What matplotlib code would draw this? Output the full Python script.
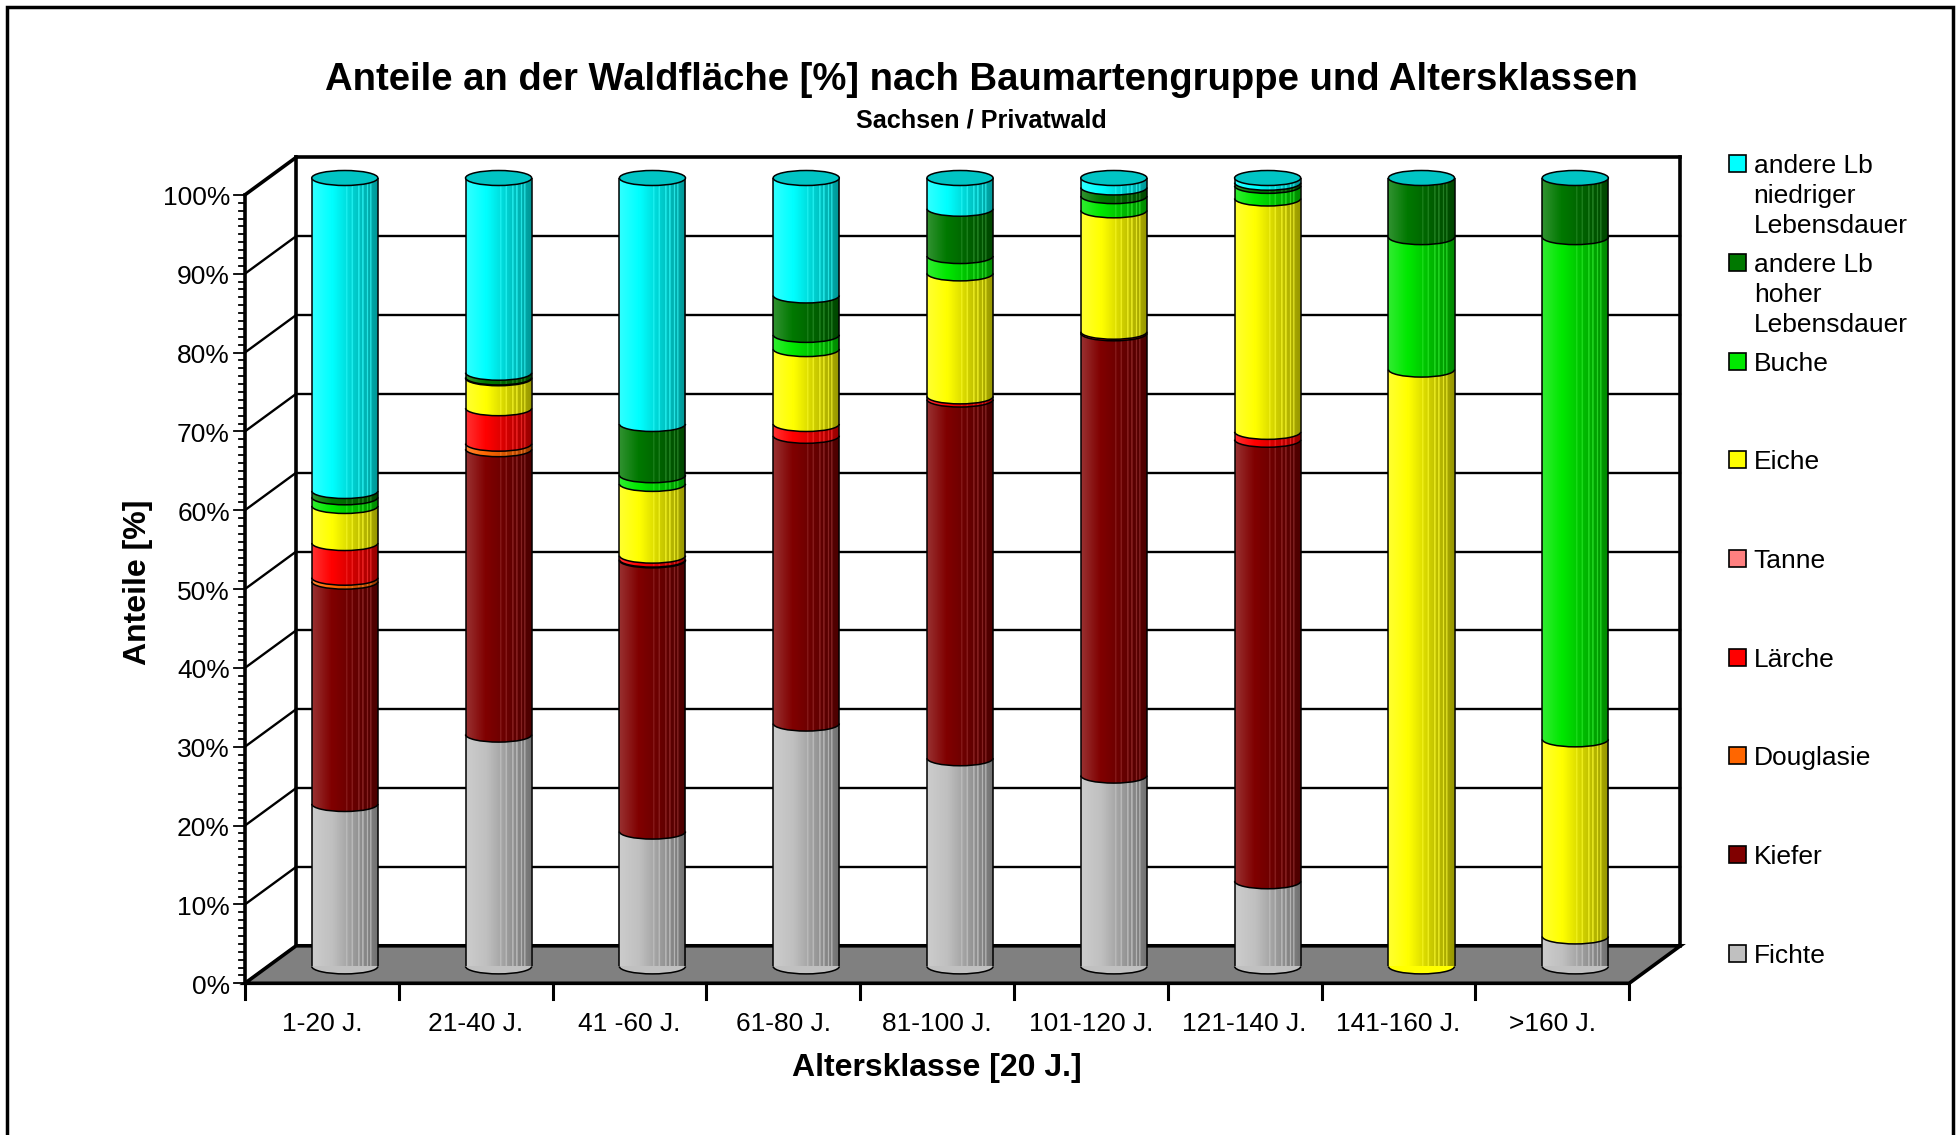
import numpy as np
import matplotlib
matplotlib.use("Agg")
import matplotlib.pyplot as plt
from matplotlib.patches import Ellipse, Arc, Polygon, Rectangle

# data: share of forest area [%] per age class, stacked bottom -> top
categories = ["1-20 J.", "21-40 J.", "41 -60 J.", "61-80 J.", "81-100 J.",
              "101-120 J.", "121-140 J.", "141-160 J.", ">160 J."]
fichte = [20.6, 29.4, 17.1, 30.8, 26.4, 24.2, 10.8, 0.0, 3.8]
kiefer = [28.2, 36.2, 34.4, 36.5, 45.5, 56.1, 56.0, 0.0, 0.0]
douglasie = [0.5, 0.7, 0.1, 0.0, 0.0, 0.0, 0.0, 0.0, 0.0]
laerche = [4.4, 4.5, 0.5, 1.5, 0.4, 0.2, 1.0, 0.0, 0.0]
tanne = [0.0, 0.0, 0.0, 0.0, 0.0, 0.0, 0.0, 0.0, 0.0]
eiche = [4.7, 3.8, 9.1, 9.5, 15.6, 15.4, 29.6, 75.7, 25.0]
buche = [1.1, 0.1, 1.1, 1.8, 2.2, 1.8, 1.6, 16.8, 63.7]
alb_hoch = [0.8, 0.6, 6.5, 5.0, 6.0, 1.1, 0.4, 7.5, 7.5]
alb_niedrig = [39.7, 24.7, 31.2, 14.9, 3.9, 1.2, 0.6, 0.0, 0.0]

series_names = ["Fichte", "Kiefer", "Douglasie", "Lärche", "Tanne", "Eiche", "Buche",
                "andere Lb\nhoher\nLebensdauer", "andere Lb\nniedriger\nLebensdauer"]
series_values = [fichte, kiefer, douglasie, laerche, tanne, eiche, buche, alb_hoch, alb_niedrig]
series_colors = ["#C0C0C0", "#800000", "#FF6600", "#FF0000", "#FF8080",
                 "#FFFF00", "#00E800", "#007800", "#00FFFF"]
cap_color = "#00C4C4"

plt.rcParams['font.family'] = ['Liberation Sans', 'DejaVu Sans']

fig = plt.figure(figsize=(19.59, 11.35), dpi=100)
ax = fig.add_axes([0.13675, 0.14855, 0.70663, 0.69463])
ax.set_xlim(-0.5, 8.5)
ax.set_ylim(0, 100)
ax.axis('off')

# pixel -> data unit helpers (fixed axes size)
PX = 9 / 1384.3
PY = 100 / 788.4
# depth offsets of back wall / front edge relative to the bar plane
DXB, DYB = 28.2 * PX, 20.6 * PY
DXF, DYF = 23.0 * PX, 16.9 * PY

x = np.arange(len(categories))
W = 0.43
EH = 15 * PY

xl_b, xr_b = -0.5 + DXB, 8.5 + DXB
xl_f, xr_f = -0.5 - DXF, 8.5 - DXF

# back wall gridlines + left side wall
for v in range(0, 101, 10):
    lw = 2.6 if v == 100 else 1.7
    ax.plot([xl_b, xr_b], [v + DYB, v + DYB], color='black', lw=lw, clip_on=False, zorder=1)
    ax.plot([xl_f, xl_b], [v - DYF, v + DYB], color='black', lw=lw, clip_on=False, zorder=1)
ax.plot([xl_b, xl_b], [DYB, 100 + DYB], color='black', lw=2.6, clip_on=False, zorder=1)
ax.plot([xr_b, xr_b], [DYB, 100 + DYB], color='black', lw=2.6, clip_on=False, zorder=1)

# floor
floor = Polygon([(xl_f, -DYF), (xr_f, -DYF), (xr_b, DYB), (xl_b, DYB)], closed=True,
                facecolor='#808080', edgecolor='black', lw=2.6, clip_on=False, zorder=2)
ax.add_patch(floor)

# front value axis
ax.plot([xl_f, xl_f], [-DYF, 100 - DYF], color='black', lw=2.6, clip_on=False, zorder=5)
for v in range(0, 101):
    ln = 11 if v % 10 == 0 else 6
    ax.plot([xl_f - ln * PX, xl_f], [v - DYF, v - DYF], color='black', lw=1.3,
            clip_on=False, zorder=5)
for v in range(0, 101, 10):
    ax.text(xl_f - 15 * PX, v - DYF - 3.5 * PY, f"{v}%", ha='right', va='center', fontsize=19)

# category ticks and labels on the front edge
for b in np.arange(-0.5, 9.0, 1.0):
    ax.plot([b - DXF, b - DXF], [-DYF, -DYF - 16 * PY], color='black', lw=2.2,
            clip_on=False, zorder=5)
for i, c in enumerate(categories):
    ax.text(x[i] - DXF, -DYF - 41 * PY, c, ha='center', va='center', fontsize=19)

# stacked cylinders
bottoms = np.zeros(len(categories))
bases = []
for k, (vals, col) in enumerate(zip(series_values, series_colors)):
    vals = np.array(vals, dtype=float)
    ax.bar(x, vals, bottom=bottoms, width=W, color=col, linewidth=0, zorder=10 + k)
    for i in range(len(x)):
        if vals[i] > 0:
            ax.add_patch(Ellipse((x[i], bottoms[i]), W, EH, facecolor=col, lw=0,
                                 zorder=10 + k, clip_on=False))
            bases.append((x[i], bottoms[i]))
    bottoms = bottoms + vals
totals = bottoms

# shading across the cylinder body
t = np.linspace(0, 1, 300)
shade = np.zeros((1, len(t), 4))
light = t < 0.3
shade[0, light, :3] = 1.0
shade[0, :, 3] = np.where(light, 0.2 * (0.3 - t) / 0.3, 0.42 * (t - 0.3) / 0.7)
for s in [0.52, 0.6, 0.7, 0.76, 0.83, 0.88]:
    m = np.abs(t - s) < 0.006
    shade[0, m, :3] = 1.0
    shade[0, m, 3] = 0.18

theta = np.linspace(np.pi, 2 * np.pi, 60)
for i in range(len(x)):
    arc_x = x[i] + W / 2 * np.cos(theta)
    arc_y = EH / 2 * np.sin(theta)
    outline = np.vstack([[x[i] - W / 2, totals[i]], np.column_stack([arc_x, arc_y]),
                         [x[i] + W / 2, totals[i]]])
    clip = Polygon(outline, closed=True, transform=ax.transData)
    im = ax.imshow(shade, extent=(x[i] - W / 2, x[i] + W / 2, -EH / 2, totals[i]),
                   aspect='auto', zorder=30, interpolation='bilinear')
    im.set_clip_path(clip)
    ax.plot([x[i] - W / 2, x[i] - W / 2], [0, totals[i]], color='black', lw=1.1, zorder=31)
    ax.plot([x[i] + W / 2, x[i] + W / 2], [0, totals[i]], color='black', lw=1.1, zorder=31)
    ax.add_patch(Ellipse((x[i], totals[i]), W, EH, facecolor=cap_color, edgecolor='black',
                         lw=1.1, zorder=33, clip_on=False))
for bx, by in bases:
    ax.add_patch(Arc((bx, by), W, EH, theta1=180, theta2=360, color='black', lw=1.1,
                     zorder=32, clip_on=False))
ax.set_xlim(-0.5, 8.5)
ax.set_ylim(0, 100)

# titles and axis labels
fig.text(0.501, 0.9295, "Anteile an der Waldfläche [%] nach Baumartengruppe und Altersklassen",
         ha='center', va='center', fontsize=27.5, fontweight='bold')
fig.text(0.501, 0.8935, "Sachsen / Privatwald", ha='center', va='center',
         fontsize=18.2, fontweight='bold')
fig.text(0.478, 0.0590, "Altersklasse [20 J.]", ha='center', va='center',
         fontsize=23, fontweight='bold')
fig.text(0.0702, 0.487, "Anteile [%]", ha='center', va='center', rotation=90,
         fontsize=23, fontweight='bold')

# legend (reversed stacking order)
W_FIG, H_FIG = 1959, 1135
for j, (name, col) in enumerate(zip(series_names[::-1], series_colors[::-1])):
    yc = 163.7 + j * 98.7
    fig.patches.append(Rectangle((1729 / W_FIG, 1 - (yc + 8.5) / H_FIG), 17 / W_FIG, 17 / H_FIG,
                                 facecolor=col, edgecolor='black', lw=1.2,
                                 transform=fig.transFigure, figure=fig))
    for li, line in enumerate(name.split("\n")):
        fig.text(1753.7 / W_FIG, 1 - (yc + 9.5 + li * 30) / H_FIG, line,
                 ha='left', va='baseline', fontsize=19)

# outer frame
fig.patches.append(Rectangle((7 / W_FIG, -0.05), 1946 / W_FIG, 1.05 - 7 / H_FIG,
                             fill=False, edgecolor='black', lw=2.5,
                             transform=fig.transFigure, figure=fig))

fig.savefig("out.png", dpi=100, facecolor='white')
